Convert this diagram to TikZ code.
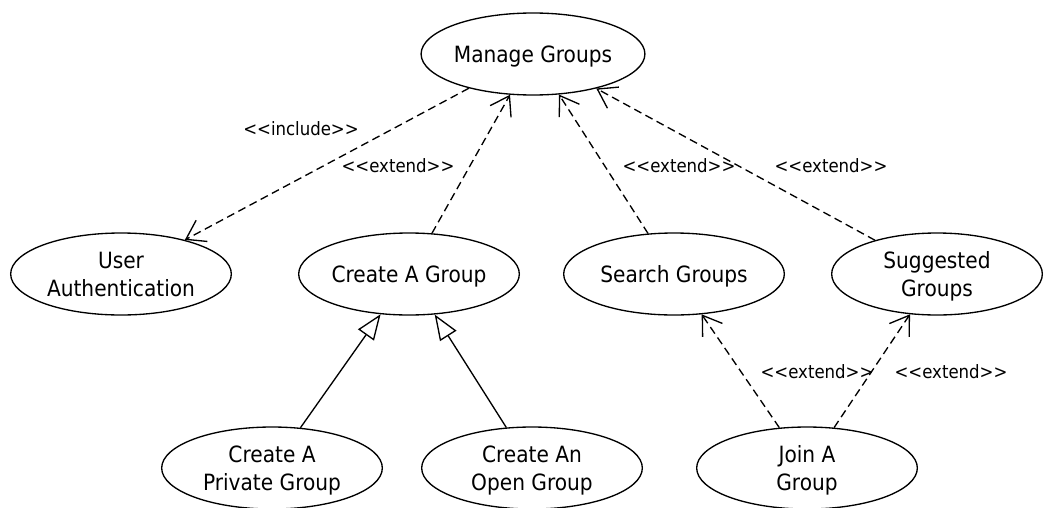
\documentclass[tikz,border=0pt]{standalone}
\usepackage{fontspec}
\setmainfont{DejaVu Sans Condensed}
\usetikzlibrary{shapes.geometric,arrows.meta}
\begin{document}
\begin{tikzpicture}[x=0.75pt,y=-0.75pt,
  usecase/.style={draw, ellipse, line width=1pt, minimum width=165.5pt,
    minimum height=61.5pt, inner sep=0pt, align=center, text depth=0pt,
    font=\fontsize{16.8}{21}\selectfont},
  stereo/.style={anchor=base, inner sep=0pt, font=\fontsize{13.8}{16}\selectfont},
  dep/.style={line width=1pt, dash pattern=on 6pt off 3.5pt,
    -{Straight Barb[length=13.5pt,width=18pt]}},
  gen/.style={line width=1pt, -{Triangle[open,length=19pt,width=14.5pt]}}]
\useasboundingbox (0,0) rectangle (1044,507);

% use cases
\node[usecase] (manage)  at (533,54)  {Manage Groups};
\node[usecase] (auth)    at (121,274) {User\\Authentication};
\node[usecase] (create)  at (409,274) {Create A Group};
\node[usecase] (search)  at (674,274) {Search Groups};
\node[usecase, minimum width=158pt] (suggest) at (937,274) {Suggested\\Groups};
\node[usecase] (private) at (272,468) {Create A\\Private Group};
\node[usecase] (open)    at (532,468) {Create An\\Open Group};
\node[usecase] (join)    at (807,468) {Join A\\Group};

% include / extend dependencies
\draw[dep] (manage)  -- (auth);
\draw[dep] (create)  -- (manage);
\draw[dep] (search)  -- (manage);
\draw[dep] (suggest) -- (manage);
\draw[dep] (join)    -- (search);
\draw[dep] (join)    -- (suggest);

% generalisations
\draw[gen] (private) -- (create);
\draw[gen] (open)    -- (create);

% stereotype labels
\node[stereo] (lInc) at (301,135) {<{}<include>{}>};
\node[stereo] (lExA) at (398,172) {<{}<extend>{}>};
\node[stereo] (lExB) at (679,172) {<{}<extend>{}>};
\node[stereo] (lExC) at (831,172) {<{}<extend>{}>};
\node[stereo] (lExD) at (817,378) {<{}<extend>{}>};
\node[stereo] (lExE) at (951,378) {<{}<extend>{}>};
\end{tikzpicture}
\end{document}
